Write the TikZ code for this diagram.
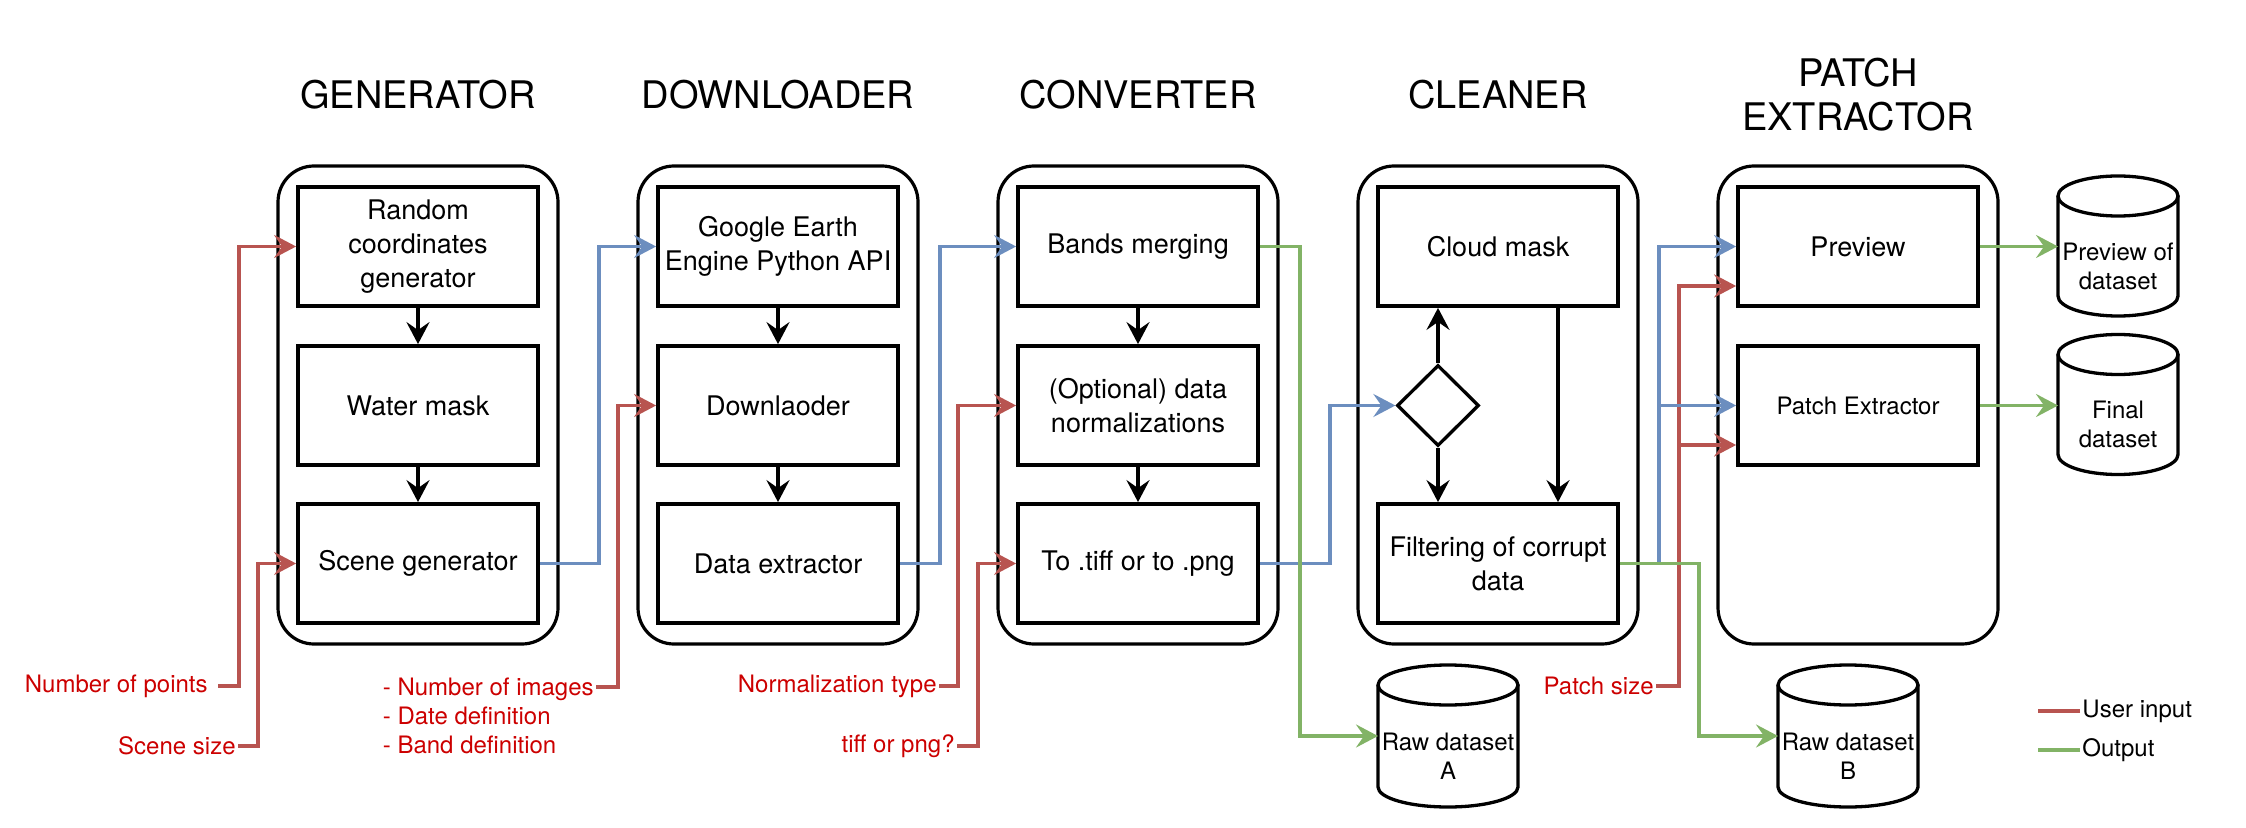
\documentclass[tikz,border=0pt]{standalone}
\usepackage{fontspec}
\setmainfont{TeX Gyre Heros}
\usetikzlibrary{arrows.meta, shapes.geometric, positioning}
\definecolor{inred}{HTML}{B85450}
\definecolor{linkblue}{HTML}{6C8EBF}
\definecolor{outgreen}{HTML}{82B366}
\definecolor{hintred}{HTML}{CC0000}

\begin{document}
\begin{tikzpicture}[x=0.5pt, y=0.5pt,
    frame/.style={line width=1.6pt, rounded corners=18pt},
    stage/.style={draw, line width=1.9pt, minimum width=120pt, minimum height=59.5pt, inner sep=0pt, align=center, font=\fontsize{13.5}{17}\selectfont},
    heading/.style={align=center, font=\fontsize{19}{22}\selectfont},
    hint/.style={text=hintred, inner sep=1pt, align=left, font=\fontsize{12}{14.3}\selectfont},
    store/.style={inner sep=0pt, outer sep=0pt, align=center, font=\fontsize{12}{14.5}\selectfont},
    flow/.style={line width=1.65pt, -{Stealth[length=11pt, width=11.5pt, inset=4pt]}},
    user/.style={flow, inred},
    data/.style={flow, linkblue},
    output/.style={flow, outgreen}]
    \useasboundingbox (0,0) rectangle (2246,-828);

    % Draw the stage headings and frames
    \foreach \x/\t in {418/GENERATOR, 778/DOWNLOADER, 1138/CONVERTER, 1498/CLEANER, 1858/{PATCH\\EXTRACTOR}} {
        \node[heading] (head\x) at (\x,-95) {\t};
        \draw[frame] (\x-140,-166) rectangle (\x+140,-644);
    }

    % Generator, downloader and converter steps
    \node[stage] (gen1) at (418,-246.5) {Random\\coordinates\\generator};
    \node[stage] (gen2) at (418,-405.5) {Water mask};
    \node[stage] (gen3) at (418,-563.5) {Scene generator};
    \node[stage] (dl1) at (778,-246.5) {Google Earth\\Engine Python API};
    \node[stage] (dl2) at (778,-405.5) {Downlaoder};
    \node[stage] (dl3) at (778,-563.5) {Data extractor};
    \node[stage] (conv1) at (1138,-246.5) {Bands merging};
    \node[stage] (conv2) at (1138,-405.5) {(Optional) data\\normalizations};
    \node[stage] (conv3) at (1138,-563.5) {To .tiff or to .png};
    \foreach \c in {gen, dl, conv} {
        \draw[flow] (\c1) -- (\c2);
        \draw[flow] (\c2) -- (\c3);
    }

    % Cleaner with its decision
    \node[stage] (cln1) at (1498,-246.5) {Cloud mask};
    \node[stage] (cln2) at (1498,-563.5) {Filtering of corrupt\\data};
    \node[draw, diamond, line width=1.65pt, minimum width=41pt, minimum height=40.5pt, inner sep=0pt] (check) at (1438,-405.5) {};
    \draw[flow] (check.north) -- (check.north |- cln1.south);
    \draw[flow] (check.south) -- (check.south |- cln2.north);
    \draw[flow] ([xshift=30pt]cln1.south) -- ([xshift=30pt]cln2.north);

    % Patch extractor
    \node[stage] (pex1) at (1858,-246.5) {Preview};
    \node[stage, font=\fontsize{12}{14.4}\selectfont] (pex2) at (1858,-405.5) {Patch Extractor};

    % Datasets (cylinders drawn round the text nodes)
    \node[store, minimum width=60pt, minimum height=50pt] (prevds) at (2118,-266) {Preview of\\dataset};
    \node[store, minimum width=60pt, minimum height=50pt] (finalds) at (2118,-424.5) {Final\\dataset};
    \node[store, minimum width=70pt, minimum height=51pt] (rawA) at (1448,-756) {Raw dataset\\A};
    \node[store, minimum width=70pt, minimum height=51pt] (rawB) at (1848,-756) {Raw dataset\\B};
    \foreach \c/\r in {prevds/30pt, finalds/30pt, rawA/35pt, rawB/35pt} {
        \draw[line width=1.65pt] ([yshift=10pt]\c.north) ellipse [x radius=\r, y radius=10pt];
        \draw[line width=1.65pt] ([yshift=10pt]\c.north west) -- ([yshift=10pt]\c.south west)
            arc [start angle=180, end angle=360, x radius=\r, y radius=10pt] -- ([yshift=10pt]\c.north east);
    }

    % User inputs
    \node[hint, anchor=east, inner xsep=5pt] (npts) at (218,-686) {Number of points};
    \node[hint, anchor=east] (ssize) at (238,-746) {Scene size};
    \node[hint, anchor=north east] (dlopts) at (596,-676) {- Number of images\\- Date definition\\- Band definition};
    \node[hint, anchor=east] (ntype) at (939,-686) {Normalization type};
    \node[hint, anchor=east] (fmt) at (957,-746) {tiff or png?};
    \node[hint, anchor=east] (psize) at (1656,-686) {Patch size};
    \draw[user] (npts.east) -- ++(21,0) |- (gen1.west);
    \draw[user] (ssize.east) -- ++(20,0) |- (gen3.west);
    \draw[user] ([yshift=-5.5pt]dlopts.north east) -- ++(22,0) |- (dl2.west);
    \draw[user] (ntype.east) -- ++(19,0) |- (conv2.west);
    \draw[user] (fmt.east) -- ++(21,0) |- (conv3.west);
    \draw[user] (psize.east) -- ++(23,0) |- ([yshift=-19.75pt]pex1.west);
    \draw[user] (psize.east) -- ++(23,0) |- ([yshift=-19.75pt]pex2.west);

    % Data passed between stages
    \draw[data] (gen3.east) -- ++(59,0) |- (dl1.west);
    \draw[data] (dl3.east) -- ++(40,0) |- (conv1.west);
    \draw[data] (conv3.east) -- ++(70,0) |- (check.west);
    \draw[data] (cln2.east) -- ++(39,0) |- (pex1.west);
    \draw[data] (cln2.east) -- ++(39,0) |- (pex2.west);

    % Outputs
    \draw[output] (conv1.east) -- ++(40,0) |- ([yshift=10pt]rawA.west);
    \draw[output] (cln2.east) -- ++(79,0) |- ([yshift=10pt]rawB.west);
    \draw[output] (pex1.east) -- (prevds.west |- pex1.east);
    \draw[output] (pex2.east) -- (finalds.west |- pex2.east);

    % Legend
    \node[anchor=west, inner sep=1pt, font=\fontsize{12}{14.4}\selectfont] (ukey) at (2080,-711) {User input};
    \node[anchor=west, inner sep=1pt, font=\fontsize{12}{14.4}\selectfont] (okey) at (2080,-750) {Output};
    \draw[inred, line width=1.65pt] (ukey.west) -- ++(-42,0);
    \draw[outgreen, line width=1.65pt] (okey.west) -- ++(-42,0);
\end{tikzpicture}
\end{document}
